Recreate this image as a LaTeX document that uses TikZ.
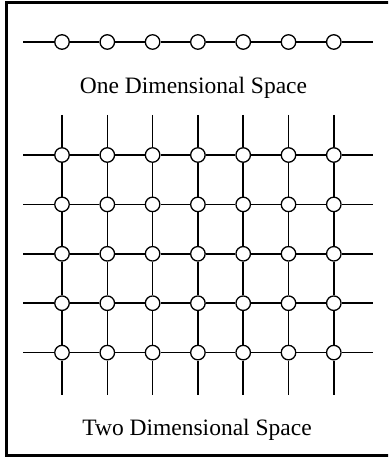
\documentclass[tikz,border=0pt]{standalone}
\usepackage{fontspec}
\setmainfont{Liberation Serif}

\tikzset{
  site/.style={circle, draw, fill=white, line width=1.3pt, minimum size=14.5pt, inner sep=0pt},
  wire/.style={line width=1.6pt},
  caption/.style={anchor=base, font=\fontsize{23.5}{28}\selectfont}
}

\begin{document}
\begin{tikzpicture}[x=1pt, y=-1pt]
        \useasboundingbox (0,0) rectangle (388,457);
        \clip (0,0) rectangle (388,457);
        % frame (its right side falls outside the picture)
        \draw[line width=3pt] (395,3) -- (6.5,3) -- (6.5,455) -- (395,455);

        % one dimensional space
        \coordinate (a-l) at (23,42);
        \coordinate (a-r) at (373,42);
        \foreach \i in {1,...,7}
            \node[site] (a-\i) at ({62+45.3*(\i-1)},42) {};
        \draw[wire] (a-l) -- (a-1);
        \foreach \i [count=\j from 2] in {1,...,6}
            \draw[wire] (a-\i) -- (a-\j);
        \draw[wire] (a-7) -- (a-r);
        \node[caption] (one) at (193.5,94) {One Dimensional Space};

        % two dimensional space
        \foreach \c in {1,...,7}
            \foreach \r in {1,...,5}
                \node[site] (g-\c-\r) at ({62+45.3*(\c-1)},{155+49.4*(\r-1)}) {};
        \foreach \r in {1,...,5} {
            \coordinate (hl-\r) at (23,{155+49.4*(\r-1)});
            \coordinate (hr-\r) at (373,{155+49.4*(\r-1)});
            \draw[wire] (hl-\r) -- (g-1-\r);
            \foreach \c [count=\d from 2] in {1,...,6}
                \draw[wire] (g-\c-\r) -- (g-\d-\r);
            \draw[wire] (g-7-\r) -- (hr-\r);
        }
        \foreach \c in {1,...,7} {
            \coordinate (vt-\c) at ({62+45.3*(\c-1)},115);
            \coordinate (vb-\c) at ({62+45.3*(\c-1)},395);
            \draw[wire] (vt-\c) -- (g-\c-1);
            \foreach \r [count=\s from 2] in {1,...,4}
                \draw[wire] (g-\c-\r) -- (g-\c-\s);
            \draw[wire] (g-\c-5) -- (vb-\c);
        }
        \node[caption] (two) at (197,435) {Two Dimensional Space};
    \end{tikzpicture}
\end{document}
